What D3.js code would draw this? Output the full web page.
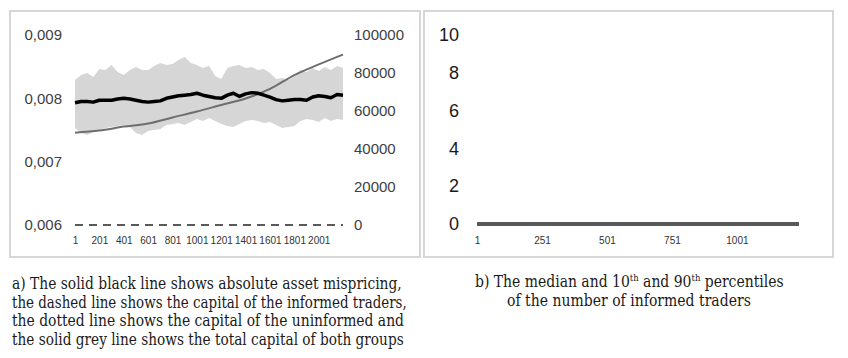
<!DOCTYPE html>
<html>
<head>
<meta charset="utf-8">
<script src="https://cdn.jsdelivr.net/npm/d3@7"></script>
<style>
  body { margin: 0; background: #fff; }
  svg { display: block; }
  .tick text { font-family: "Liberation Sans", Arial, sans-serif; }
  .caption { font-family: "DejaVu Serif", "Liberation Serif", serif; fill: #1a1a1a; }
</style>
</head>
<body>
<div id="chart"></div>
<script>
// ---- panel a) data, sampled every 50 steps (1, 51, ..., 2151, 2200)
const stepsA = d3.range(1, 2200, 50).concat([2200]);

const mispricing = [0.00793, 0.00795, 0.00795, 0.00794, 0.00797, 0.00797, 0.00797, 0.00799, 0.00800, 0.00799,
  0.00797, 0.00795, 0.00794, 0.00795, 0.00796, 0.00800, 0.00802, 0.00804, 0.00805, 0.00806,
  0.00808, 0.00805, 0.00803, 0.00801, 0.00800, 0.00805, 0.00808, 0.00803, 0.00807, 0.00809,
  0.00808, 0.00805, 0.00802, 0.00798, 0.00796, 0.00797, 0.00798, 0.00798, 0.00797, 0.00802,
  0.00804, 0.00803, 0.00801, 0.00806, 0.00805];

// uninformed capital (dotted, very noisy -> drawn as its envelope)
const uninformedHigh = [76300, 78900, 80000, 77900, 82100, 81600, 84200, 80500, 78900, 81600,
  83200, 81600, 81600, 83700, 85300, 84200, 84700, 86800, 88400, 85300,
  84200, 82600, 83700, 78400, 76800, 82600, 83700, 84200, 82600, 83200,
  81600, 82100, 80000, 76800, 77400, 76300, 77900, 81600, 80500, 82600,
  81100, 83200, 81600, 83700, 82600];
const uninformedLow = [51100, 48400, 47400, 48900, 50000, 51100, 51600, 52100, 52600, 51600,
  48400, 47400, 49500, 50000, 50500, 52600, 53200, 53700, 52600, 54200,
  55800, 54700, 56300, 54700, 53200, 52100, 51600, 53200, 54700, 55300,
  54700, 53700, 54200, 52600, 51100, 51600, 52100, 54700, 55800, 55300,
  54200, 56300, 54700, 55800, 55300];

// total capital and informed capital, sampled every 200 steps
const stepsCap = [1, 201, 401, 601, 801, 1001, 1201, 1401, 1601, 1801, 2001, 2200];
const totalCapital = [48600, 49700, 51800, 53400, 56600, 59700, 63200, 66600, 71600, 78900, 84500, 89700];
const informedCapital = [0, 0, 0, 0, 0, 0, 0, 0, 0, 0, 0, 0];

const ticksLeftA = [0.006, 0.007, 0.008, 0.009];
const ticksRightA = [0, 20000, 40000, 60000, 80000, 100000];
const ticksXA = [1, 201, 401, 601, 801, 1001, 1201, 1401, 1601, 1801, 2001];

// ---- panel b) data
const stepsB = [1, 251, 501, 751, 1001, 1240];
const informedMedian = [0, 0, 0, 0, 0, 0];
const informedP10 = [0, 0, 0, 0, 0, 0];
const informedP90 = [0, 0, 0, 0, 0, 0];
const ticksYB = [0, 2, 4, 6, 8, 10];
const ticksXB = [1, 251, 501, 751, 1001];

const captionA = [
  "a) The solid black line shows absolute asset mispricing,",
  "the dashed line shows the capital of the informed traders,",
  "the dotted line shows the capital of the uninformed and",
  "the solid grey line shows the total capital of both groups"
];

////////////////////////////////////////////////////////////////////

const svg = d3.select('#chart').append('svg')
  .attr('width', 848)
  .attr('height', 358);

// panel frames
svg.append('rect').attr('x', 10).attr('y', 11).attr('width', 410).attr('height', 246)
  .attr('fill', '#fff').attr('stroke', '#d6d6d6').attr('stroke-width', 2);
svg.append('rect').attr('x', 424).attr('y', 11).attr('width', 409).attr('height', 246)
  .attr('fill', '#fff').attr('stroke', '#d6d6d6').attr('stroke-width', 2);

////////////////////////////////////////////////////////////////////
// panel a

const xA = d3.scaleLinear().domain([1, 2200]).range([75, 343]);
const yL = d3.scaleLinear().domain([0.006, 0.009]).range([225, 35]);
const yR = d3.scaleLinear().domain([0, 100000]).range([225, 35]);

const plotA = svg.append('g').attr('class', 'plotA');

plotA.append('path')
  .datum(stepsA.map((s, i) => ({s: s, hi: uninformedHigh[i], lo: uninformedLow[i]})))
  .attr('fill', '#d6d6d6')
  .attr('d', d3.area().x(d => xA(d.s)).y0(d => yR(d.lo)).y1(d => yR(d.hi)));

plotA.append('path')
  .datum(stepsCap.map((s, i) => ({s: s, v: informedCapital[i]})))
  .attr('fill', 'none')
  .attr('stroke', '#595959')
  .attr('stroke-width', 2)
  .attr('stroke-dasharray', '8,6')
  .attr('d', d3.line().x(d => xA(d.s)).y(d => yR(d.v)));

plotA.append('path')
  .datum(stepsCap.map((s, i) => ({s: s, v: totalCapital[i]})))
  .attr('fill', 'none')
  .attr('stroke', '#6e6e6e')
  .attr('stroke-width', 2)
  .attr('d', d3.line().curve(d3.curveMonotoneX).x(d => xA(d.s)).y(d => yR(d.v)));

plotA.append('path')
  .datum(stepsA.map((s, i) => ({s: s, v: mispricing[i]})))
  .attr('fill', 'none')
  .attr('stroke', '#000')
  .attr('stroke-width', 3.5)
  .attr('stroke-linejoin', 'round')
  .attr('d', d3.line().x(d => xA(d.s)).y(d => yL(d.v)));

const axisLA = plotA.append('g')
  .attr('transform', 'translate(75,0)')
  .call(d3.axisLeft(yL).tickValues(ticksLeftA).tickSize(0).tickPadding(13)
    .tickFormat(d => d3.format('.3f')(d).replace('.', ',')));
const axisRA = plotA.append('g')
  .attr('transform', 'translate(343,0)')
  .call(d3.axisRight(yR).tickValues(ticksRightA).tickSize(0).tickPadding(11)
    .tickFormat(d3.format('d')));
const axisXA = plotA.append('g')
  .attr('transform', 'translate(0,225)')
  .call(d3.axisBottom(xA).tickValues(ticksXA).tickSize(0).tickPadding(12)
    .tickFormat(d3.format('d')));

[axisLA, axisRA].forEach(a => {
  a.select('.domain').remove();
  a.selectAll('text').attr('font-size', 15).attr('fill', '#404040');
});
axisXA.select('.domain').remove();
axisXA.selectAll('text').attr('font-size', 10).attr('fill', '#333');

////////////////////////////////////////////////////////////////////
// panel b

const xB = d3.scaleLinear().domain([1, 1240]).range([477, 799]);
const yB = d3.scaleLinear().domain([0, 10]).range([224, 35]);

const plotB = svg.append('g').attr('class', 'plotB');

[informedP90, informedP10, informedMedian].forEach(series => {
  plotB.append('path')
    .datum(stepsB.map((s, i) => ({s: s, v: series[i]})))
    .attr('fill', 'none')
    .attr('stroke', '#595959')
    .attr('stroke-width', 4)
    .attr('d', d3.line().x(d => xB(d.s)).y(d => yB(d.v)));
});

const axisYB = plotB.append('g')
  .attr('transform', 'translate(477,0)')
  .call(d3.axisLeft(yB).tickValues(ticksYB).tickSize(0).tickPadding(18));
axisYB.select('.domain').remove();
axisYB.selectAll('text').attr('font-size', 18).attr('fill', '#1a1a1a');

const axisXB = plotB.append('g')
  .attr('transform', 'translate(0,225)')
  .call(d3.axisBottom(xB).tickValues(ticksXB).tickSize(0).tickPadding(12)
    .tickFormat(d3.format('d')));
axisXB.select('.domain').remove();
axisXB.selectAll('text').attr('font-size', 10).attr('fill', '#333');

////////////////////////////////////////////////////////////////////
// captions (squeezed horizontally to the width of the original condensed serif)

function caption(x, y, width, build) {
  const g = svg.append('g');
  const t = g.append('text')
    .attr('class', 'caption')
    .attr('font-size', 16.5);
  build(t);
  const w = t.node().getComputedTextLength();
  g.attr('transform', `translate(${x},${y}) scale(${width / w},1)`);
}

const capWidths = [390, 395, 392, 392];
captionA.forEach((line, i) => {
  caption(12, 289 + i * 18.5, capWidths[i], t => t.text(line));
});

caption(475, 287, 309, t => {
  t.append('tspan').text('b) The median and 10');
  t.append('tspan').attr('font-size', 10).attr('dy', -6).text('th');
  t.append('tspan').attr('dy', 6).text(' and 90');
  t.append('tspan').attr('font-size', 10).attr('dy', -6).text('th');
  t.append('tspan').attr('dy', 6).text(' percentiles');
});

caption(507, 305.5, 244, t => t.text('of the number of informed traders'));
</script>
</body>
</html>
